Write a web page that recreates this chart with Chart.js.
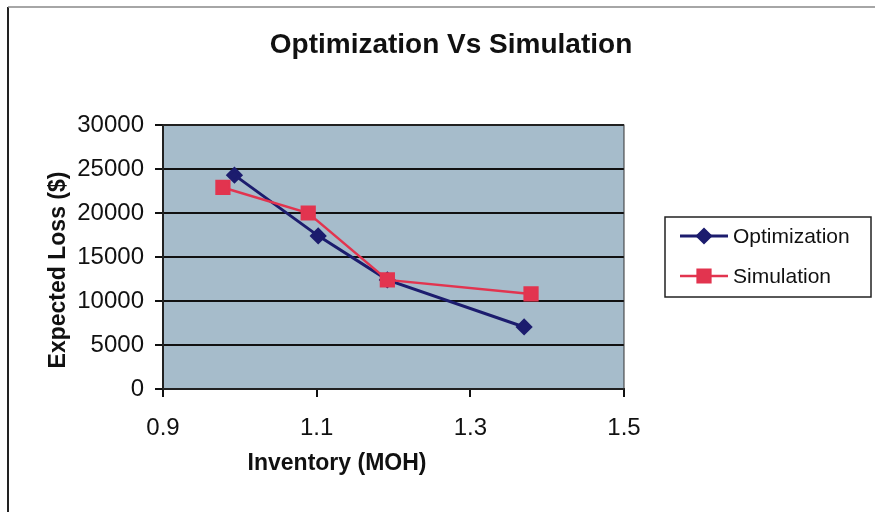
<!DOCTYPE html>
<html>
<head>
<meta charset="utf-8">
<script src="https://cdn.jsdelivr.net/npm/chart.js@4.4.1/dist/chart.umd.min.js"></script>
<style>
  html, body { margin: 0; padding: 0; background: #fff; }
  canvas { display: block; }
</style>
</head>
<body>
<canvas id="lossChart" width="875" height="512"></canvas>
<script>
// values
const optInventory = [0.993, 1.102, 1.192, 1.370];
const optLoss = [24300, 17400, 12400, 7050];
const simInventory = [0.978, 1.089, 1.192, 1.379];
const simLoss = [22900, 20000, 12400, 10800];
const seriesNames = ['Optimization', 'Simulation'];
const xTicks = [0.9, 1.1, 1.3, 1.5];
const yTicks = [0, 5000, 10000, 15000, 20000, 25000, 30000];

const FONT = '"Liberation Sans", Arial, sans-serif';

const toPoints = (xs, ys) => xs.map((x, i) => ({ x: x, y: ys[i] }));

// frame, plot background, titles and legend like the old spreadsheet chart
const decorations = {
    id: 'decorations',
    beforeDraw(chart) {
        const { ctx, chartArea: a } = chart;
        ctx.save();
        ctx.fillStyle = '#a6bccb';
        ctx.fillRect(a.left, a.top, a.right - a.left, a.bottom - a.top);
        ctx.restore();
    },
    afterDraw(chart) {
        const { ctx, chartArea: a } = chart;
        ctx.save();
        // outer frame (left + top edges visible)
        ctx.strokeStyle = '#222';
        ctx.lineWidth = 2;
        ctx.beginPath();
        ctx.moveTo(8, 512);
        ctx.lineTo(8, 7);
        ctx.stroke();
        ctx.strokeStyle = '#888';
        ctx.lineWidth = 1.5;
        ctx.beginPath();
        ctx.moveTo(8, 7);
        ctx.lineTo(875, 7);
        ctx.stroke();

        // thin top/right edge of plot
        ctx.strokeStyle = '#333';
        ctx.lineWidth = 1;
        ctx.strokeRect(a.left, a.top, a.right - a.left, a.bottom - a.top);

        ctx.fillStyle = '#111';
        ctx.textAlign = 'center';
        ctx.textBaseline = 'middle';
        ctx.font = 'bold 28px ' + FONT;
        ctx.fillText('Optimization Vs Simulation', 451, 45);

        ctx.font = 'bold 23px ' + FONT;
        ctx.fillText('Inventory (MOH)', 337, 464);
        ctx.save();
        ctx.translate(59, 270);
        ctx.rotate(-Math.PI / 2);
        ctx.fillText('Expected Loss ($)', 0, 0);
        ctx.restore();

        // legend
        ctx.strokeStyle = '#222';
        ctx.lineWidth = 1.5;
        ctx.strokeRect(665, 217, 206, 80);
        ctx.font = '21px ' + FONT;
        ctx.textAlign = 'left';
        chart.data.datasets.forEach((ds, i) => {
            const y = 236 + i * 40;
            ctx.strokeStyle = ds.borderColor;
            ctx.lineWidth = ds.borderWidth;
            ctx.beginPath();
            ctx.moveTo(680, y);
            ctx.lineTo(728, y);
            ctx.stroke();
            Chart.helpers.drawPoint(ctx, {
                pointStyle: ds.pointStyle,
                radius: ds.pointRadius,
                borderWidth: 1
            }, 704, y);
            ctx.fillStyle = ds.pointBackgroundColor;
            ctx.fill();
            ctx.fillStyle = '#111';
            ctx.fillText(ds.label, 733, y + 1);
        });
        ctx.restore();
    }
};

new Chart(document.getElementById('lossChart'), {
    type: 'scatter',
    data: {
        datasets: [{
            label: seriesNames[0],
            data: toPoints(optInventory, optLoss),
            showLine: true,
            borderColor: '#1c1c6e',
            backgroundColor: '#1c1c6e',
            pointBackgroundColor: '#1c1c6e',
            pointBorderColor: '#1c1c6e',
            borderWidth: 3,
            pointStyle: 'rectRot',
            pointRadius: 6.5,
            order: 1
        }, {
            label: seriesNames[1],
            data: toPoints(simInventory, simLoss),
            showLine: true,
            borderColor: '#e2344f',
            backgroundColor: '#e2344f',
            pointBackgroundColor: '#e2344f',
            pointBorderColor: '#e2344f',
            borderWidth: 2.5,
            pointStyle: 'rect',
            pointRadius: 9,
            order: 0
        }]
    },
    options: {
        responsive: false,
        animation: false,
        layout: {
            padding: { top: 125, right: 251, left: 0, bottom: 0 }
        },
        plugins: {
            legend: { display: false },
            title: { display: false },
            tooltip: { enabled: false }
        },
        scales: {
            x: {
                type: 'linear',
                min: xTicks[0],
                max: xTicks[xTicks.length - 1],
                afterFit: (scale) => { scale.height = 123; },
                afterBuildTicks: (scale) => { scale.ticks = xTicks.map(v => ({ value: v })); },
                ticks: {
                    color: '#111',
                    font: { family: FONT, size: 24 },
                    padding: 17,
                    maxRotation: 0,
                    callback: (v) => Number(v).toFixed(1)
                },
                grid: {
                    drawOnChartArea: false,
                    drawTicks: true,
                    tickLength: 8,
                    color: '#111',
                    lineWidth: 2
                },
                border: { display: true, color: '#111', width: 2 }
            },
            y: {
                min: yTicks[0],
                max: yTicks[yTicks.length - 1],
                afterFit: (scale) => { scale.width = 163; },
                afterBuildTicks: (scale) => { scale.ticks = yTicks.map(v => ({ value: v })); },
                ticks: {
                    color: '#111',
                    font: { family: FONT, size: 24 },
                    padding: 11,
                    callback: (v) => String(v)
                },
                grid: {
                    color: '#111',
                    lineWidth: 2,
                    tickLength: 8
                },
                border: { display: true, color: '#111', width: 2 }
            }
        }
    },
    plugins: [decorations]
});
</script>
</body>
</html>
